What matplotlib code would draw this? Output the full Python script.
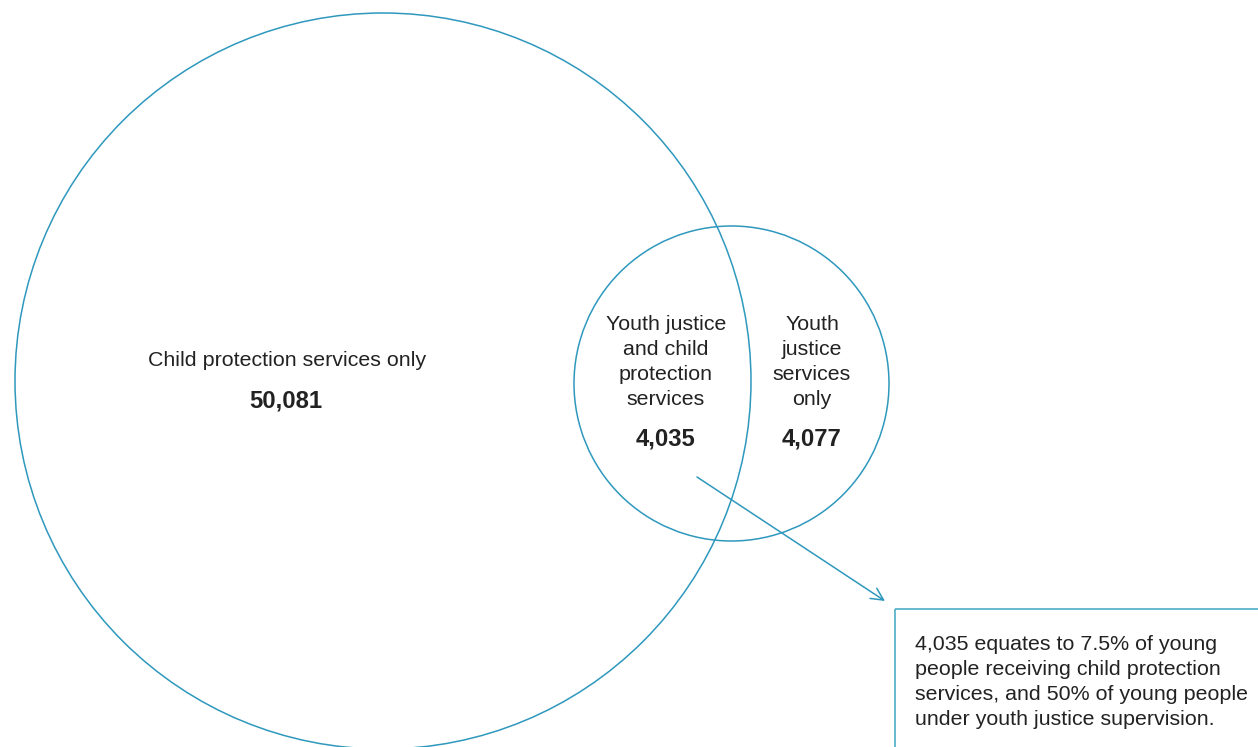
import matplotlib.pyplot as plt
from matplotlib.patches import Circle, Rectangle

# venn regions
region_labels = ['Child protection services only',
                 'Youth justice\nand child\nprotection\nservices',
                 'Youth\njustice\nservices\nonly']
region_values = [50081, 4035, 4077]
note_text = ('4,035 equates to 7.5% of young\npeople receiving child protection\n'
             'services, and 50% of young people\nunder youth justice supervision.')

line_col = '#2e98bd'
box_col = '#5cb3cc'
txt_col = '#222222'

plt.rcParams['font.family'] = ['Liberation Sans', 'DejaVu Sans']

fig = plt.figure(figsize=(12.58, 7.47), dpi=100)
ax = fig.add_axes([0, 0, 1, 1])
ax.set_xlim(0, 1258)
ax.set_ylim(747, 0)
ax.axis('off')

# circles
ax.add_patch(Circle((383, 381), 368, fill=False, ec=line_col, lw=1.1))
ax.add_patch(Circle((731.5, 383.5), 157.5, fill=False, ec=line_col, lw=1.1))

fs = 15.4
fsb = 17.2
ls = 1.4
# labels
ax.text(287, 361, region_labels[0], ha='center', va='center', fontsize=fs, color=txt_col)
ax.text(286, 401, f'{region_values[0]:,}', ha='center', va='center', fontsize=fsb,
        fontweight='bold', color=txt_col)
ax.text(666, 362, region_labels[1], ha='center', va='center', fontsize=fs, color=txt_col,
        linespacing=ls)
ax.text(665, 439, f'{region_values[1]:,}', ha='center', va='center', fontsize=fsb,
        fontweight='bold', color=txt_col)
ax.text(812, 362, region_labels[2], ha='center', va='center', fontsize=fs, color=txt_col,
        linespacing=ls)
ax.text(812, 439, f'{region_values[2]:,}', ha='center', va='center', fontsize=fsb,
        fontweight='bold', color=txt_col)

# arrow to note
ax.annotate('', xy=(885, 601), xytext=(697, 477),
            arrowprops=dict(arrowstyle='->', color=line_col, lw=1.1,
                            mutation_scale=22, shrinkA=0, shrinkB=0))

# note box
ax.add_patch(Rectangle((894.5, 608.5), 400, 200, fill=False, ec=box_col, lw=1.3))
ax.text(915, 682, note_text, ha='left', va='center', fontsize=fs, color=txt_col,
        linespacing=ls)

fig.savefig('out.png', dpi=100)
